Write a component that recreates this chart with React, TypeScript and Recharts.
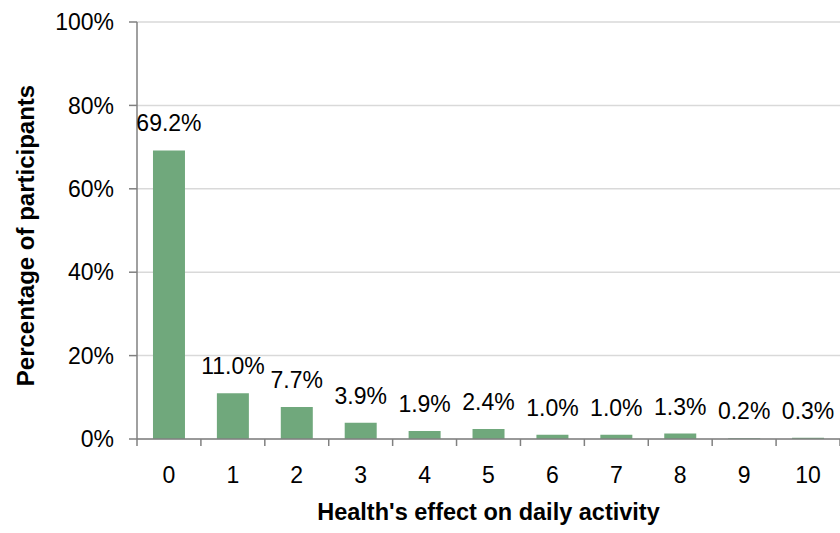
import { BarChart, Bar, XAxis, YAxis, CartesianGrid, LabelList, Label } from 'recharts';

const categories = ['0', '1', '2', '3', '4', '5', '6', '7', '8', '9', '10'];
const percentages = [69.2, 11.0, 7.7, 3.9, 1.9, 2.4, 1.0, 1.0, 1.3, 0.2, 0.3];
const yTicks = [0, 20, 40, 60, 80, 100];

const data = categories.map((c, i) => ({ level: c, pct: percentages[i] }));

const FONT = '"Liberation Sans", Arial, sans-serif';
const AXIS_GRAY = '#808080';
const BAR_GREEN = '#70a87c';
const CHART_W = 840;
const CHART_H = 533;
const Y_AXIS_W = 137;
const BAND = (CHART_W - Y_AXIS_W) / categories.length;

/* eslint-disable @typescript-eslint/no-explicit-any */
function XTick({ x, y, payload, index }: any) {
  const last = index === categories.length - 1;
  return (
    <g>
      <line x1={x - BAND / 2} x2={x - BAND / 2} y1={y} y2={y + 7} stroke={AXIS_GRAY} strokeWidth={1.5} />
      {last && (
        <line x1={x + BAND / 2} x2={x + BAND / 2} y1={y} y2={y + 7} stroke={AXIS_GRAY} strokeWidth={1.5} />
      )}
      <text x={x} y={y + 28} dy="0.71em" textAnchor="middle" fontSize={23} fill="#000" fontFamily={FONT}>
        {payload.value}
      </text>
    </g>
  );
}

function YTitle({ viewBox }: any) {
  const cx = viewBox.x + 25;
  const cy = viewBox.y + viewBox.height / 2 + 5;
  return (
    <text
      x={cx}
      y={cy}
      transform={`rotate(-90, ${cx}, ${cy})`}
      textAnchor="middle"
      dominantBaseline="central"
      fontSize={24}
      fontWeight="bold"
      fill="#000"
      fontFamily={FONT}
    >
      Percentage of participants
    </text>
  );
}
/* eslint-enable @typescript-eslint/no-explicit-any */

export default function App() {
  return (
    <div style={{ position: 'fixed', left: 0, top: 0, background: '#fff' }}>
      <BarChart
        width={CHART_W}
        height={CHART_H}
        data={data}
        margin={{ top: 22, right: 0, left: 0, bottom: 0 }}
        barCategoryGap="25%"
      >
        <CartesianGrid vertical={false} stroke="#d9d9d9" strokeWidth={1.5} />
        <XAxis
          dataKey="level"
          height={94}
          stroke={AXIS_GRAY}
          strokeWidth={1.5}
          tickLine={false}
          tickSize={0}
          tickMargin={0}
          tick={<XTick />}
          interval={0}
        >
          <Label
            value="Health's effect on daily activity"
            position="insideBottom"
            offset={13}
            fontSize={23.5}
            fontWeight="bold"
            fill="#000"
            fontFamily={FONT}
          />
        </XAxis>
        <YAxis
          width={Y_AXIS_W}
          domain={[0, 100]}
          ticks={yTicks}
          tickFormatter={(v: number) => `${v}%`}
          stroke={AXIS_GRAY}
          strokeWidth={1.5}
          tickSize={8}
          tickMargin={15}
          tick={{ fontSize: 23, fill: '#000', fontFamily: FONT }}
          interval={0}
        >
          <Label content={<YTitle />} />
        </YAxis>
        <Bar dataKey="pct" fill={BAR_GREEN} isAnimationActive={false}>
          <LabelList
            dataKey="pct"
            position="top"
            offset={19}
            formatter={(v: number) => `${v.toFixed(1)}%`}
            fontSize={23}
            fill="#000"
            fontFamily={FONT}
          />
        </Bar>
      </BarChart>
    </div>
  );
}
